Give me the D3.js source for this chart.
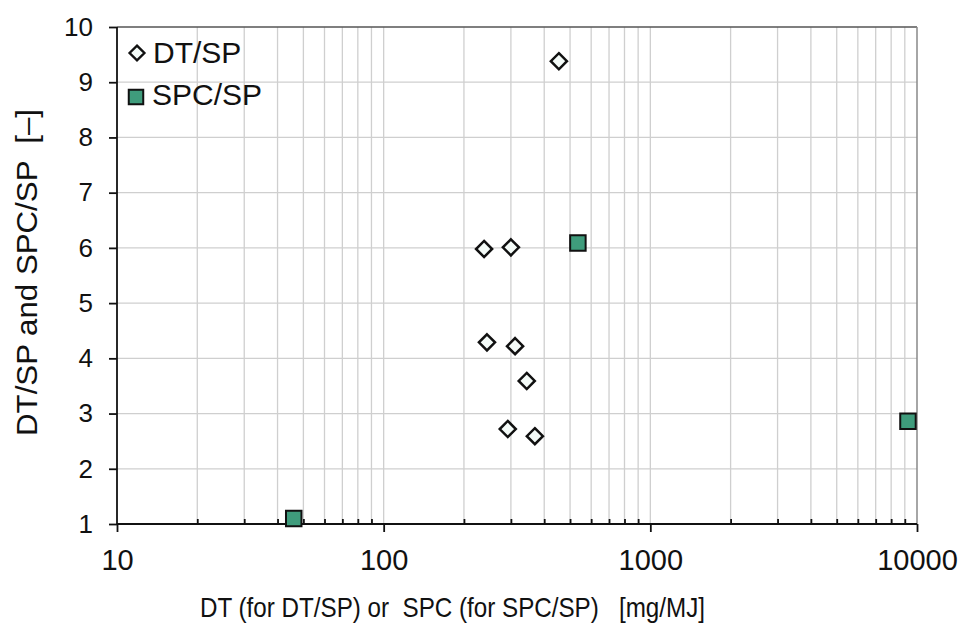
<!DOCTYPE html>
<html><head><meta charset="utf-8">
<script src="https://cdn.jsdelivr.net/npm/d3@7"></script>
<style>body{margin:0;background:#fff}svg{display:block}text{font-family:"Liberation Sans",Arial,sans-serif;fill:#111;white-space:pre}</style>
</head><body>
<svg id="c" width="966" height="632"></svg>
<script>
const dtX = [454, 238, 300, 244, 311, 344, 292, 369];
const dtY = [9.38, 5.98, 6.01, 4.29, 4.22, 3.59, 2.72, 2.59];
const spcX = [535, 9250, 46];
const spcY = [6.09, 2.86, 1.1];
const xTicks = [10, 100, 1000, 10000];
const yTicks = [1,2,3,4,5,6,7,8,9,10];
const seriesNames = ["DT/SP", "SPC/SP"];
const xTitle = "DT (for DT/SP) or  SPC (for SPC/SP)   [mg/MJ]";
const yTitle = "DT/SP and SPC/SP  [\u2013]";

const L=117,R=917,T=27,B=524;
const svg=d3.select("#c");
const x=d3.scaleLog().domain([10,10000]).range([L,R]);
const y=d3.scaleLinear().domain([1,10]).range([B,T]);

const minor=[];
for(let d=10;d<10000;d*=10) for(let k=2;k<=9;k++) minor.push(d*k);
const g=svg.append("g");
g.selectAll(".vg").data(minor.concat(xTicks.slice(1,3))).enter().append("line")
 .attr("x1",d=>x(d)).attr("x2",d=>x(d)).attr("y1",T).attr("y2",B)
 .attr("stroke","#cfcfcf").attr("stroke-width",1.3);
g.selectAll(".hg").data(yTicks.slice(1,9)).enter().append("line")
 .attr("x1",L).attr("x2",R).attr("y1",d=>y(d)).attr("y2",d=>y(d))
 .attr("stroke","#cfcfcf").attr("stroke-width",1.3);
svg.append("line").attr("x1",L).attr("x2",R).attr("y1",T).attr("y2",T).attr("stroke","#555").attr("stroke-width",1.5);
svg.append("line").attr("x1",R).attr("x2",R).attr("y1",T).attr("y2",B).attr("stroke","#888").attr("stroke-width",1.5);

const xa=svg.append("g").attr("transform",`translate(0,${B})`)
 .call(d3.axisBottom(x).tickValues(xTicks).tickFormat(d3.format("d")).tickSize(8).tickPadding(17));
const xm=svg.append("g").attr("transform",`translate(0,${B})`)
 .call(d3.axisBottom(x).tickValues(minor).tickFormat("").tickSize(-5));
xm.select(".domain").remove();
const ya=svg.append("g").attr("transform",`translate(${L},0)`)
 .call(d3.axisLeft(y).tickValues(yTicks).tickFormat(d3.format("d")).tickSize(8).tickPadding(16));
[xa,xm,ya].forEach(a=>{a.attr("font-size",null).attr("font-family",null);
 a.selectAll("path,line").attr("stroke","#111").attr("stroke-width",1.8);});
xa.selectAll("text").style("font-size","29px").attr("fill","#111");
ya.selectAll("text").style("font-size","26px").attr("fill","#111");
xa.select(".domain").attr("d",`M${L},0H${R}`);
ya.select(".domain").attr("d",`M0,${B}V${T}`);

const sq=d3.symbol().type(d3.symbolSquare).size(240);
const dm=d3.symbol().type(d3.symbolDiamond2).size(165);
svg.selectAll(".dt").data(dtX.map((v,i)=>[v,dtY[i]])).enter().append("path")
 .attr("d",dm).attr("transform",d=>`translate(${x(d[0])},${y(d[1])})`)
 .attr("fill","#f4fbf8").attr("stroke","#111").attr("stroke-width",2.5);
svg.selectAll(".sp").data(spcX.map((v,i)=>[v,spcY[i]])).enter().append("path")
 .attr("d",sq).attr("transform",d=>`translate(${x(d[0])},${y(d[1])})`)
 .attr("fill","#3f9c7c").attr("stroke","#111").attr("stroke-width",2);

svg.append("path").attr("d",d3.symbol().type(d3.symbolDiamond2).size(140)).attr("transform","translate(137,53)")
 .attr("fill","#f4fbf8").attr("stroke","#111").attr("stroke-width",2.4);
svg.append("text").attr("x",153).attr("y",63).style("font-size","30px").text(seriesNames[0]);
svg.append("path").attr("d",d3.symbol().type(d3.symbolSquare).size(210)).attr("transform","translate(136,97)")
 .attr("fill","#3f9c7c").attr("stroke","#111").attr("stroke-width",2);
svg.append("text").attr("x",152).attr("y",105).style("font-size","30px").text(seriesNames[1]);

svg.append("text").attr("x",200).attr("y",617).attr("textLength",505).attr("lengthAdjust","spacingAndGlyphs")
 .style("font-size","28px").text(xTitle);
svg.append("text").attr("transform","translate(37,436) rotate(-90)").attr("textLength",327).attr("lengthAdjust","spacingAndGlyphs")
 .style("font-size","29px").text(yTitle);
</script>
</body></html>
